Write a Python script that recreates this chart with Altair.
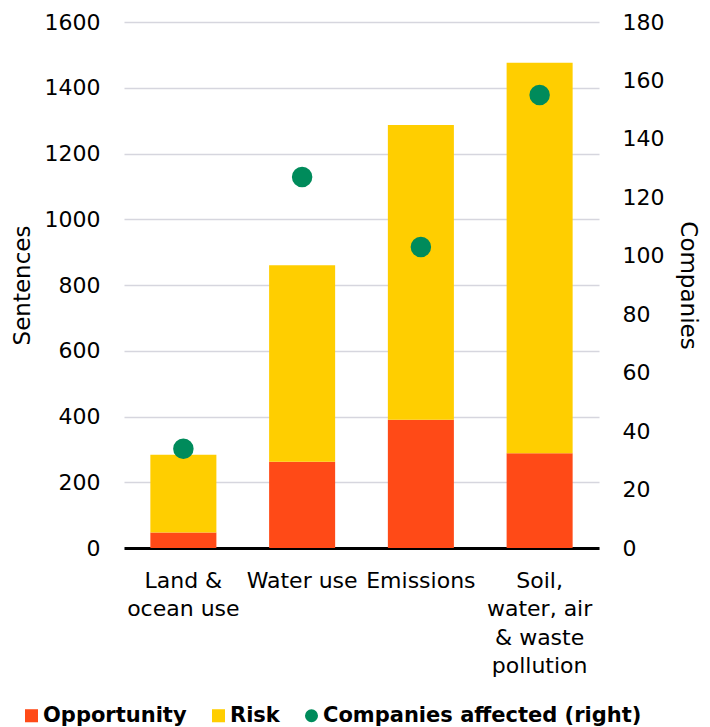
import altair as alt
import pandas as pd

# Categories (line breaks mark the wrapped axis labels)
categories = [
    "Land &\nocean use",
    "Water use",
    "Emissions",
    "Soil,\nwater, air\n& waste\npollution",
]
opportunity = [47, 262, 390, 288]
risk = [237, 598, 897, 1188]
companies = [34, 127, 103, 155]

series_names = ["Opportunity", "Risk", "Companies affected (right)"]
series_colors = ["#FF4A17", "#FFCE00", "#008B5B"]
series_shapes = ["square", "square", "circle"]

bars = pd.DataFrame(
    {
        "category": categories * 2,
        "series": ["Opportunity"] * 4 + ["Risk"] * 4,
        "order": [0] * 4 + [1] * 4,
        "value": opportunity + risk,
    }
)
points = pd.DataFrame(
    {
        "category": categories,
        "series": ["Companies affected (right)"] * 4,
        "value": companies,
    }
)

FONT = "DejaVu Sans"


def series_legend():
    return alt.Legend(
        title=None,
        orient="none",
        legendX=-103,
        legendY=683,
        direction="horizontal",
        labelFontSize=21,
        labelFontWeight="bold",
        labelColor="#000000",
        labelLimit=500,
        symbolSize=170,
        symbolStrokeWidth=0,
        symbolOpacity=1,
        labelOffset=1,
        columnPadding=21,
        padding=0,
    )


x_enc = alt.X(
    "category:N",
    sort=categories,
    title=None,
    scale=alt.Scale(paddingInner=0.444, paddingOuter=0.222),
    axis=alt.Axis(
        labelAngle=0,
        labelExpr="split(datum.label, '\\n')",
        labelFontSize=22,
        labelLineHeight=28.5,
        labelPadding=22,
        labelColor="#000000",
        ticks=False,
        domainColor="#000000",
        domainWidth=3,
        labelBaseline="top",
    ),
)

color_scale = alt.Scale(domain=series_names, range=series_colors)
shape_scale = alt.Scale(domain=series_names, range=series_shapes)

bar_layer = (
    alt.Chart(bars)
    .mark_bar()
    .encode(
        x=x_enc,
        y=alt.Y(
            "value:Q",
            stack="zero",
            title="Sentences",
            scale=alt.Scale(domain=[0, 1600], nice=False),
            axis=alt.Axis(
                values=list(range(0, 1601, 200)),
                format="d",
                grid=True,
                gridColor="#D6D6DE",
                gridWidth=1.5,
                domain=False,
                ticks=False,
                labelFontSize=22,
                labelPadding=24,
                labelColor="#000000",
                titleFontSize=23,
                titleFontWeight="normal",
                titleColor="#000000",
                titlePadding=10,
            ),
        ),
        color=alt.Color("series:N", scale=color_scale, legend=series_legend()),
        order=alt.Order("order:Q"),
    )
)

point_layer = (
    alt.Chart(points)
    .mark_point(filled=True, size=420, opacity=1)
    .encode(
        x=alt.X("category:N", sort=categories),
        y=alt.Y(
            "value:Q",
            title="Companies",
            scale=alt.Scale(domain=[0, 180], nice=False),
            axis=alt.Axis(
                orient="right",
                values=list(range(0, 181, 20)),
                format="d",
                grid=False,
                domain=False,
                ticks=False,
                labelFontSize=22,
                labelPadding=23,
                labelColor="#000000",
                titleFontSize=23,
                titleFontWeight="normal",
                titleColor="#000000",
                titlePadding=12,
            ),
        ),
        color=alt.Color("series:N", scale=color_scale, legend=series_legend()),
        shape=alt.Shape("series:N", scale=shape_scale, legend=series_legend()),
    )
)

chart = (
    alt.layer(bar_layer, point_layer)
    .resolve_scale(y="independent")
    .properties(
        width=475,
        height=526,
        autosize=alt.AutoSizeParams(type="none"),
        padding={"left": 124, "top": 22, "right": 111, "bottom": 179},
    )
    .configure(font=FONT)
    .configure_view(stroke=None)
)

chart.save("out.html", embed_options={"renderer": "svg", "actions": False})
